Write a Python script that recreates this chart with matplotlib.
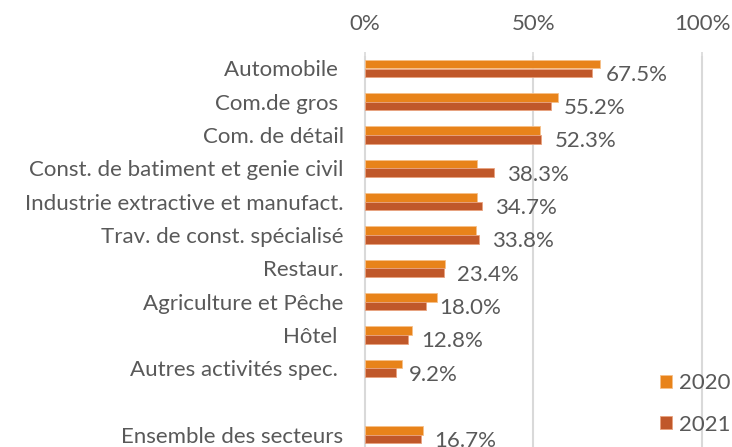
import numpy as np
import matplotlib.pyplot as plt
import matplotlib.patches as mpatches

# data (share of firms, 2020 vs 2021)
categories = ['Automobile ', 'Com.de gros ', 'Com. de détail',
              'Const. de batiment et genie civil',
              'Industrie extractive et manufact.',
              'Trav. de const. spécialisé', 'Restaur.',
              'Agriculture et Pêche', 'Hôtel ', 'Autres activités spec. ',
              '', 'Ensemble des secteurs']
vals_2020 = [0.697, 0.572, 0.519, 0.332, 0.332, 0.328, 0.237, 0.215, 0.139, 0.109, np.nan, 0.172]
vals_2021 = [0.675, 0.552, 0.523, 0.383, 0.347, 0.338, 0.234, 0.180, 0.128, 0.092, np.nan, 0.167]
series_names = ['2020', '2021']

col_2020 = '#E8831A'
col_2021 = '#C0582A'
txt_col = '#595959'
grid_col = '#D9D9D9'
fs = 16

plt.rcParams['font.family'] = ['Lato', 'DejaVu Sans']

W, H = 732, 447
fig = plt.figure(figsize=(W/100, H/100), dpi=100)

# axes box in pixels
left_px, right_px = 361.6, 708.7
top_px, bot_px = 56, 447
ax = fig.add_axes([left_px/W, 1 - bot_px/H, (right_px-left_px)/W, (bot_px-top_px)/H])

pitch = 33.3
y = np.arange(len(categories))
bh = 0.26
ax.barh(y - bh/2, vals_2020, height=bh, color=col_2020, edgecolor='#F6C08A', linewidth=0.6, label=series_names[0], zorder=3)
ax.barh(y + bh/2, vals_2021, height=bh, color=col_2021, edgecolor='#E9A27E', linewidth=0.6, label=series_names[1], zorder=3)

ax.set_xlim(-0.01, 1.02)
ax.set_ylim((bot_px-68.5)/pitch, (top_px-68.5)/pitch)

# value labels for 2021
for yi, v in zip(y, vals_2021):
    if np.isnan(v):
        continue
    ax.annotate('{:.1f}%'.format(v*100), (v, yi + 0.19), xytext=(9.5, 0),
                textcoords='offset points', va='center', ha='left',
                fontsize=fs, color=txt_col)

ax.set_yticks(y)
ax.set_yticklabels(categories)
ax.set_xticks([0, 0.5, 1.0])
ax.set_xticklabels(['0%', '50%', '100%'])
ax.xaxis.tick_top()
ax.tick_params(axis='y', length=0, pad=13, labelsize=fs, labelcolor=txt_col)
ax.tick_params(axis='x', length=3, width=1.2, color=grid_col, pad=13, labelsize=fs, labelcolor=txt_col)
for s in ax.spines.values():
    s.set_visible(False)
ax.grid(axis='x', color=grid_col, linewidth=1.5, zorder=0)
ax.set_axisbelow(True)

handles = [mpatches.Patch(facecolor=col_2020, edgecolor='#F6C08A', linewidth=0.6),
           mpatches.Patch(facecolor=col_2021, edgecolor='#E9A27E', linewidth=0.6)]
leg = fig.legend(handles, series_names, loc='center left',
                 bbox_to_anchor=(660/W, 1 - 404/H), frameon=False,
                 fontsize=fs, labelcolor=txt_col, handlelength=0.55,
                 handleheight=0.55, handletextpad=0.3, labelspacing=0.95,
                 borderaxespad=0, borderpad=0)

fig.savefig('out.png', dpi=100)
